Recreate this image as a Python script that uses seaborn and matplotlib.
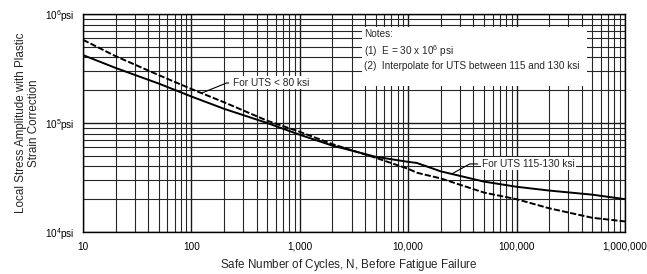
import numpy as np
import pandas as pd
import matplotlib
matplotlib.use("Agg")
import matplotlib.pyplot as plt
import matplotlib.ticker as mticker
import seaborn as sns

# ---- data ----
cycles = [10, 20, 50, 100, 200, 500, 1000, 2000, 5000, 10000, 12000,
          20000, 50000, 100000, 200000, 500000, 1000000]
sa_uts_le80_ksi = [580, 410, 275, 205, 155, 105, 83, 64, 48, 38, 35,
                   31, 23, 20, 16.5, 13.5, 12.5]
sa_uts_115_130_ksi = [420, 320, 230, 175, 135, 100, 78, 62, 49, 44, 43,
                      36, 29, 26, 24, 22, 20]
curve_names = ["UTS < 80 ksi", "UTS 115-130 ksi"]

x_ticks = [10, 100, 1000, 10000, 100000, 1000000]
x_ticklabels = ["10", "100", "1,000", "10,000", "100,000", "1,000,000"]
y_ticks = [1e4, 1e5, 1e6]
y_ticklabels = [r"10$^4$psi", r"10$^5$psi", r"10$^6$psi"]

notes_text = ("Notes:\n(1)  E = 30 x 10$^6$ psi\n"
              "(2)  Interpolate for UTS between 115 and 130 ksi")
label_le80 = "For UTS < 80 ksi"
label_115 = "For UTS 115-130 ksi"
xlabel = "Safe Number of Cycles, $N$, Before Fatigue Failure"
ylabel = "Local Stress Amplitude with Plastic\nStrain Correction"

# ---- build table ----
df = pd.DataFrame({
    "N": cycles * 2,
    "Sa": [v * 1000 for v in sa_uts_le80_ksi] + [v * 1000 for v in sa_uts_115_130_ksi],
    "curve": [curve_names[0]] * len(cycles) + [curve_names[1]] * len(cycles),
})

sns.set_style("white")
plt.rcParams["font.family"] = ["Liberation Sans", "DejaVu Sans"]
plt.rcParams["mathtext.fontset"] = "custom"
plt.rcParams["mathtext.rm"] = "Liberation Sans"
plt.rcParams["mathtext.it"] = "Liberation Sans:italic"
plt.rcParams["mathtext.default"] = "regular"

fig = plt.figure(figsize=(6.47, 2.74), dpi=100)
ax = fig.add_axes([83 / 647, 1 - 232 / 274, 542 / 647, 218 / 274])

sns.lineplot(data=df, x="N", y="Sa", style="curve",
             dashes={curve_names[0]: (3.2, 1.1), curve_names[1]: ""},
             color="black", linewidth=1.4, legend=False, ax=ax, zorder=4)

ax.set_xscale("log")
ax.set_yscale("log")
ax.set_xlim(10, 1e6)
ax.set_ylim(1e4, 1e6)

ax.xaxis.set_major_locator(mticker.FixedLocator(x_ticks))
ax.xaxis.set_major_formatter(mticker.FixedFormatter(x_ticklabels))
ax.yaxis.set_major_locator(mticker.FixedLocator(y_ticks))
ax.yaxis.set_major_formatter(mticker.FixedFormatter(y_ticklabels))
for axis in (ax.xaxis, ax.yaxis):
    axis.set_minor_locator(mticker.LogLocator(base=10, subs=np.arange(2, 10), numticks=20))
    axis.set_minor_formatter(mticker.NullFormatter())

ax.tick_params(which="both", length=0, labelsize=7.2, colors="black")
ax.tick_params(axis="x", pad=7)
ax.tick_params(axis="y", pad=6)
ax.set_axisbelow(True)
ax.grid(which="major", color="0.1", linewidth=1.0)
ax.grid(which="minor", color="0.15", linewidth=0.8)
for s in ax.spines.values():
    s.set_color("black")
    s.set_linewidth(1.0)
    s.set_visible(True)

ax.set_xlabel(xlabel, fontsize=8.4)
ax.set_ylabel(ylabel, fontsize=8.4, linespacing=1.05)
ax.xaxis.set_label_coords(0.49, -0.115)
ax.yaxis.set_label_coords(-0.08, 0.5)

# notes box
ax.add_patch(plt.Rectangle((0.515, 0.67), 0.415, 0.272, transform=ax.transAxes,
                           facecolor="white", edgecolor="none", zorder=3))
ax.text(0.519, 0.93, notes_text, transform=ax.transAxes, fontsize=7.2,
        va="top", ha="left", linespacing=1.3, zorder=5)

# leader annotations
ax.annotate(label_le80, xy=(124, 1.88e5), xytext=(242, 2.33e5),
            fontsize=7.3, va="center", ha="left", zorder=5,
            bbox=dict(boxstyle="square,pad=0.15", fc="white", ec="none"),
            arrowprops=dict(arrowstyle="-", color="black", lw=0.8,
                            shrinkA=2, shrinkB=0,
                            connectionstyle="angle,angleA=0,angleB=22,rad=0"))
ax.annotate(label_115, xy=(25200, 3.41e4), xytext=(48000, 4.21e4),
            fontsize=7.3, va="center", ha="left", zorder=5,
            bbox=dict(boxstyle="square,pad=0.15", fc="white", ec="none"),
            arrowprops=dict(arrowstyle="-", color="black", lw=0.8,
                            shrinkA=2, shrinkB=0,
                            connectionstyle="angle,angleA=0,angleB=29,rad=0"))

fig.savefig("out.png", dpi=100, facecolor="white")
